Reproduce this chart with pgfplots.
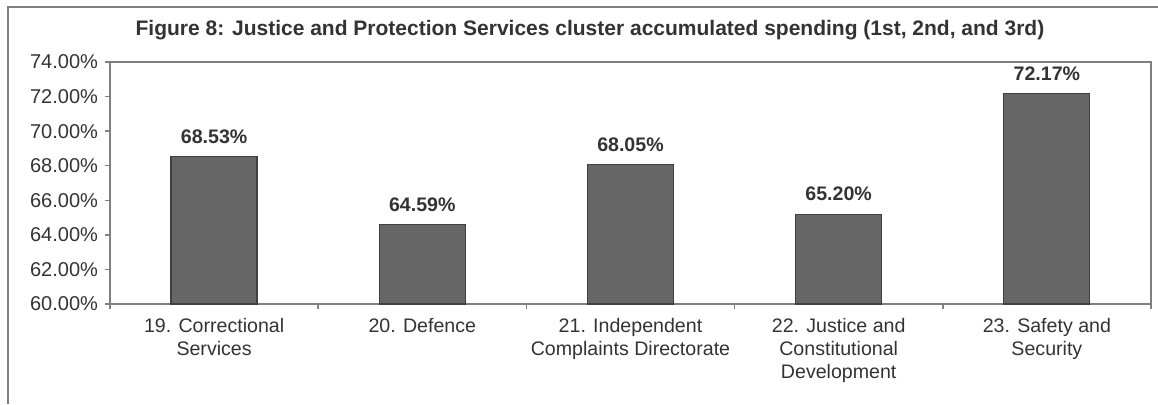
\documentclass[border=0pt]{standalone}
\usepackage{fontspec}
\setmainfont{Liberation Sans}
\usepackage{pgfplots}
\pgfplotsset{compat=1.18}

\definecolor{barfill}{HTML}{666666}
\definecolor{baredge}{HTML}{404040}
\definecolor{axisgray}{HTML}{808080}
\definecolor{txt}{HTML}{333333}

\begin{document}
\begin{tikzpicture}
  \useasboundingbox (-55pt,-50pt) rectangle (524pt,152pt);
  % outer chart frame (left and top edges visible)
  \draw[axisgray, line width=1pt] (-51pt,-50pt) -- (-51pt,148.5pt) -- (524pt,148.5pt);
  \node[font=\fontsize{10.5}{12}\selectfont\bfseries, text=txt] at (240pt,137pt)
    {Figure 8: Justice and Protection Services cluster accumulated spending (1st, 2nd, and 3rd)};
  \begin{axis}[
      at={(0,0)}, anchor=south west,
      scale only axis,
      width=520.5pt, height=121pt,
      ybar, bar width=43pt,
      ymin=60, ymax=74,
      xmin=-0.5, xmax=4.5,
      ytick={60,62,...,74},
      yticklabel={\pgfmathprintnumber[fixed,fixed zerofill,precision=2]{\tick}\%},
      /pgf/number format/assume math mode=true,
      xtick={0,1,2,3,4},
      xticklabels={19. Correctional\\Services,
                   20. Defence,
                   21. Independent\\Complaints Directorate,
                   22. Justice and\\Constitutional\\Development,
                   23. Safety and\\Security},
      x tick label style={align=center, font=\fontsize{9.8}{11.5}\selectfont,
                          text=txt, yshift=-1pt},
      y tick label style={font=\fontsize{10}{11}\selectfont, text=txt},
      minor xtick={-0.5,0.5,...,4.5},
      major x tick style={draw=none},
      xtick pos=lower, ytick pos=left,
      tick style={axisgray, line width=0.75pt},
      tick align=outside,
      major tick length=2.5pt, minor tick length=2.5pt,
      axis line style={axisgray, line width=0.75pt},
      nodes near coords={\pgfmathprintnumber[fixed,fixed zerofill,precision=2]{\pgfplotspointmeta}\%},
      nodes near coords style={font=\fontsize{9.8}{11}\selectfont\bfseries, text=txt,
                               yshift=3pt},
      every axis plot/.append style={/pgf/number format/assume math mode=true},
    ]
    \addplot[fill=barfill, draw=baredge, line width=0.6pt] coordinates {
      (0,68.53) (1,64.59) (2,68.05) (3,65.20) (4,72.17)
    };
  \end{axis}
\end{tikzpicture}
\end{document}
